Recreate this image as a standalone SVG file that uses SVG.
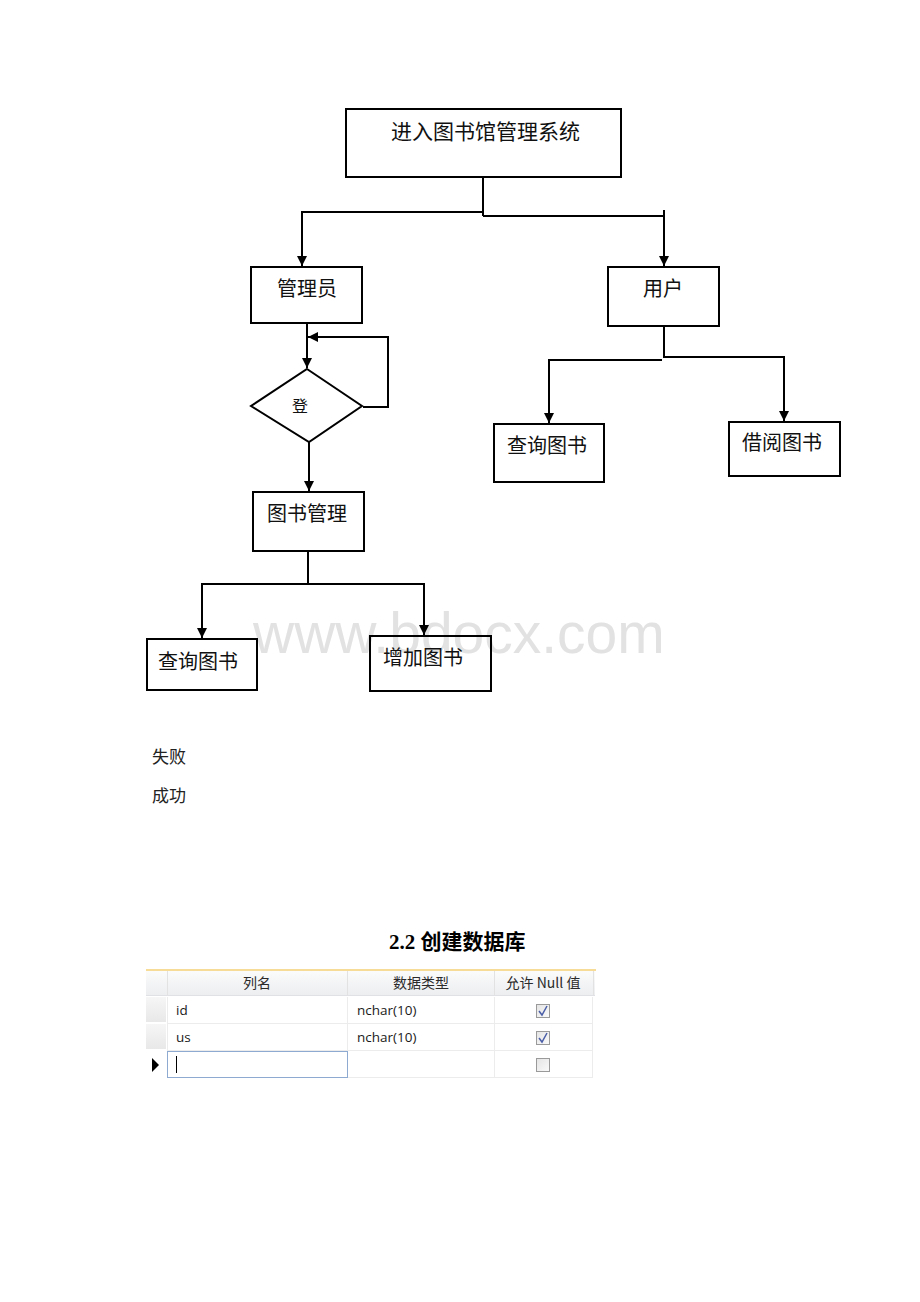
<svg xmlns="http://www.w3.org/2000/svg" width="920" height="1302" viewBox="0 0 920 1302">
<defs>
<marker id="arr" viewBox="0 0 10 10" refX="10" refY="5" markerWidth="10" markerHeight="10" markerUnits="userSpaceOnUse" orient="auto">
<path d="M0,0 L10,5 L0,10 z" fill="#000"/>
</marker>
<linearGradient id="hdr" x1="0" y1="0" x2="0" y2="1">
<stop offset="0" stop-color="#fbfbfb"/>
<stop offset="1" stop-color="#eceef0"/>
</linearGradient>
<linearGradient id="rh" x1="0" y1="0" x2="0" y2="1">
<stop offset="0" stop-color="#f6f6f6"/>
<stop offset="1" stop-color="#e8e8e8"/>
</linearGradient>
<linearGradient id="cb" x1="0" y1="0" x2="1" y2="1">
<stop offset="0" stop-color="#e4e4e4"/>
<stop offset="1" stop-color="#fafafa"/>
</linearGradient>
</defs>
<style>
.box{fill:none;stroke:#000;stroke-width:2}
.lbl{font-family:"Noto Sans CJK SC","Liberation Sans",sans-serif;font-size:20px;fill:#111}
.con{fill:none;stroke:#000;stroke-width:2}
.note{font-family:"Noto Sans CJK SC",sans-serif;font-size:17px;fill:#222}
.th{font-family:"Noto Sans CJK SC","Liberation Sans",sans-serif;font-size:14px;fill:#2a2a2a;text-anchor:middle}
.td{font-family:"Open Sans","Noto Sans",sans-serif;font-size:13.5px;fill:#1a1a1a}
.grid{stroke:#ececec;stroke-width:1;fill:none}
.chk{fill:url(#cb);stroke:#9a9a9a;stroke-width:1}
</style>
<rect width="920" height="1302" fill="#fff"/>
<text x="253" y="653" font-family="Liberation Sans, Arial, sans-serif" font-size="57" fill="#e2e2e2">www.bdocx.com</text>

<g id="connectors">
<path class="con" d="M483,177 V216"/>
<path class="con" d="M483,212 H302 V266" marker-end="url(#arr)"/>
<path class="con" d="M483,216 H664"/>
<path class="con" d="M664,210 V266" marker-end="url(#arr)"/>
<path class="con" d="M307,323 V368" marker-end="url(#arr)"/>
<path class="con" d="M363,407 H388 V337 H308" marker-end="url(#arr)"/>
<path class="con" d="M309,442 V491" marker-end="url(#arr)"/>
<path class="con" d="M308,551 V584"/>
<path class="con" d="M308,584 H202 V638" marker-end="url(#arr)"/>
<path class="con" d="M308,584 H424 V635" marker-end="url(#arr)"/>
<path class="con" d="M664,326 V357 H784 V421" marker-end="url(#arr)"/>
<path class="con" d="M662,360 H549 V423" marker-end="url(#arr)"/>
</g>

<g id="node-start">
<rect class="box" x="346" y="109" width="275" height="68"/>
<text class="lbl" x="391" y="139" style="font-size:21px">进入图书馆管理系统</text>
</g>
<g id="node-admin">
<rect class="box" x="251" y="267" width="111" height="56"/>
<text class="lbl" x="277" y="296">管理员</text>
</g>
<g id="node-user">
<rect class="box" x="608" y="267" width="111" height="59"/>
<text class="lbl" x="643" y="296">用户</text>
</g>
<g id="node-login">
<polygon class="box" points="307,369 362,406 309,442 251,406"/>
<text class="lbl" x="300" y="412" style="font-size:16px" text-anchor="middle">登</text>
</g>
<g id="node-bookmgmt">
<rect class="box" x="253" y="492" width="111" height="59"/>
<text class="lbl" x="267" y="521">图书管理</text>
</g>
<g id="node-user-query">
<rect class="box" x="494" y="424" width="110" height="58"/>
<text class="lbl" x="507" y="453">查询图书</text>
</g>
<g id="node-user-borrow">
<rect class="box" x="729" y="422" width="111" height="54"/>
<text class="lbl" x="742" y="450">借阅图书</text>
</g>
<g id="node-admin-query">
<rect class="box" x="147" y="639" width="110" height="51"/>
<text class="lbl" x="158" y="669">查询图书</text>
</g>
<g id="node-admin-add">
<rect class="box" x="370" y="636" width="121" height="55"/>
<text class="lbl" x="383" y="665">增加图书</text>
</g>

<g id="notes">
<text class="note" x="152" y="763">失败</text>
<text class="note" x="152" y="802">成功</text>
<text x="389" y="949" font-family="Liberation Serif, Noto Sans CJK SC, serif" font-size="21" font-weight="bold" fill="#000">2.2 <tspan font-family="Noto Sans CJK SC, sans-serif">创建数据库</tspan></text>
</g>

<g id="table">
<rect x="146" y="971" width="449" height="24" fill="url(#hdr)"/>
<line x1="146" y1="970" x2="596" y2="970" stroke="#f6dc97" stroke-width="2"/>
<line x1="146" y1="995.5" x2="595" y2="995.5" stroke="#dfe1e4"/>
<line x1="167.5" y1="971" x2="167.5" y2="995" stroke="#e2e2e2"/>
<line x1="347.5" y1="971" x2="347.5" y2="995" stroke="#e2e2e2"/>
<line x1="494.5" y1="971" x2="494.5" y2="995" stroke="#e2e2e2"/>
<line x1="593.5" y1="971" x2="593.5" y2="995" stroke="#e2e2e2"/>
<text class="th" x="257" y="988">列名</text>
<text class="th" x="421" y="988">数据类型</text>
<text class="th" x="543" y="988">允许 Null 值</text>

<rect x="146" y="997" width="20" height="25" fill="url(#rh)"/>
<rect x="146" y="1024" width="20" height="25" fill="url(#rh)"/>
<rect x="146" y="1051" width="20" height="26" fill="#fff"/>
<path class="grid" d="M167.5,997 V1077 M347.5,997 V1077 M494.5,997 V1077 M592.5,997 V1077 M167,1023.5 H593 M167,1050.5 H593 M167,1077.5 H593"/>
<text class="td" x="176" y="1015">id</text>
<text class="td" x="357" y="1015">nchar(10)</text>
<text class="td" x="176" y="1042">us</text>
<text class="td" x="357" y="1042">nchar(10)</text>
<rect class="chk" x="536.5" y="1004.5" width="13" height="13"/>
<path d="M539,1011 L542,1015 L547,1006" fill="none" stroke="#4a5ea8" stroke-width="1.5"/>
<rect class="chk" x="536.5" y="1031.5" width="13" height="13"/>
<path d="M539,1038 L542,1042 L547,1033" fill="none" stroke="#4a5ea8" stroke-width="1.5"/>
<rect class="chk" x="536.5" y="1058.5" width="13" height="13"/>
<polygon points="152,1058 159,1065 152,1072" fill="#000"/>
<rect x="167.5" y="1051.5" width="180" height="26" fill="#fff" stroke="#8eaad0" stroke-width="1"/>
<line x1="176.5" y1="1056" x2="176.5" y2="1073" stroke="#000" stroke-width="1"/>
</g>
</svg>
